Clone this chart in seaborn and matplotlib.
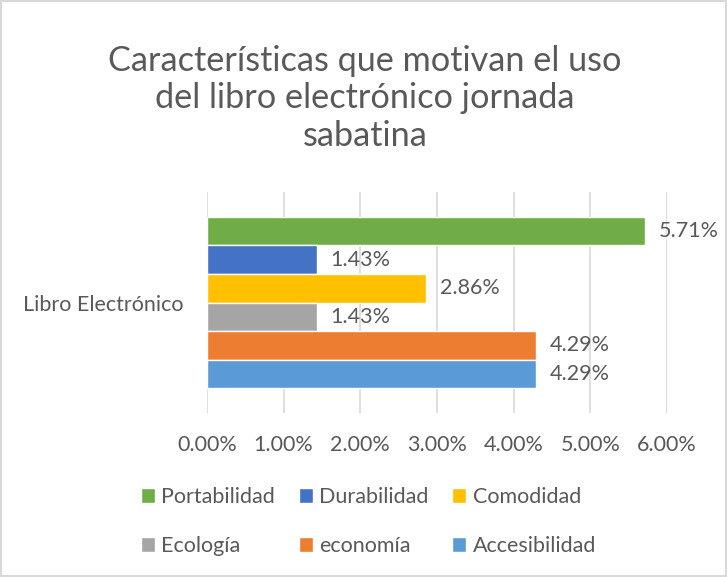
import matplotlib
matplotlib.use("Agg")
import matplotlib.pyplot as plt
import seaborn as sns
import pandas as pd
from matplotlib.patches import Rectangle
from matplotlib.ticker import FuncFormatter

# data
category = ["Libro Electrónico"]
series = ["Portabilidad", "Durabilidad", "Comodidad", "Ecología", "economía", "Accesibilidad"]
values = [5.71, 1.43, 2.86, 1.43, 4.29, 4.29]
colors = ["#70AD47", "#4472C4", "#FFC000", "#A5A5A5", "#ED7D31", "#5B9BD5"]
xticks = [0, 1, 2, 3, 4, 5, 6]

title = "Características que motivan el uso\ndel libro electrónico jornada\nsabatina"
text_color = "#595959"
grid_color = "#D9D9D9"

sns.set_theme(style="white")
plt.rcParams["font.family"] = ["Lato", "DejaVu Sans"]

df = pd.DataFrame({"cat": category * len(series), "serie": series, "valor": values})

fig = plt.figure(figsize=(7.27, 5.77), dpi=100)
ax = fig.add_axes([0.2847, 0.2842, 0.6327, 0.383])

sns.barplot(data=df, x="valor", y="cat", hue="serie", hue_order=series,
            palette=colors, orient="h", width=0.775, saturation=1,
            ax=ax, legend=True)

for cont in ax.containers:
    ax.bar_label(cont, labels=[f"{v:.2f}%" for v in cont.datavalues],
                 padding=10, fontsize=15.5, color=text_color)

ax.set_xlim(0, 6)
ax.set_xticks(xticks)
ax.xaxis.set_major_formatter(FuncFormatter(lambda v, p: f"{v:.2f}%"))
ax.grid(axis="x", color=grid_color, linewidth=1.2)
ax.set_axisbelow(True)
for s in ax.spines.values():
    s.set_visible(False)
ax.tick_params(axis="both", length=0, labelsize=15.5, colors=text_color)
ax.tick_params(axis="x", pad=16)
ax.tick_params(axis="y", pad=17)
ax.set_xlabel("")
ax.set_ylabel("")

# legend filled row by row, like the original
handles, labels = ax.get_legend_handles_labels()
ax.legend_.remove()
order = [0, 3, 1, 4, 2, 5]
fig.legend([handles[i] for i in order], [labels[i] for i in order],
           ncol=3, loc="center", bbox_to_anchor=(0.507, 0.096),
           frameon=False, fontsize=15.5, labelcolor=text_color,
           handlelength=0.65, handleheight=0.65, handletextpad=0.3,
           columnspacing=1.1, labelspacing=1.35)

fig.text(0.502, 0.83, title, ha="center", va="center", fontsize=24.7,
         color=text_color, linespacing=1.21)

fig.patches.append(Rectangle((0.002, 0.002), 0.996, 0.996, transform=fig.transFigure,
                             fill=False, edgecolor=grid_color, linewidth=1.5))

fig.savefig("out.png", dpi=100)
